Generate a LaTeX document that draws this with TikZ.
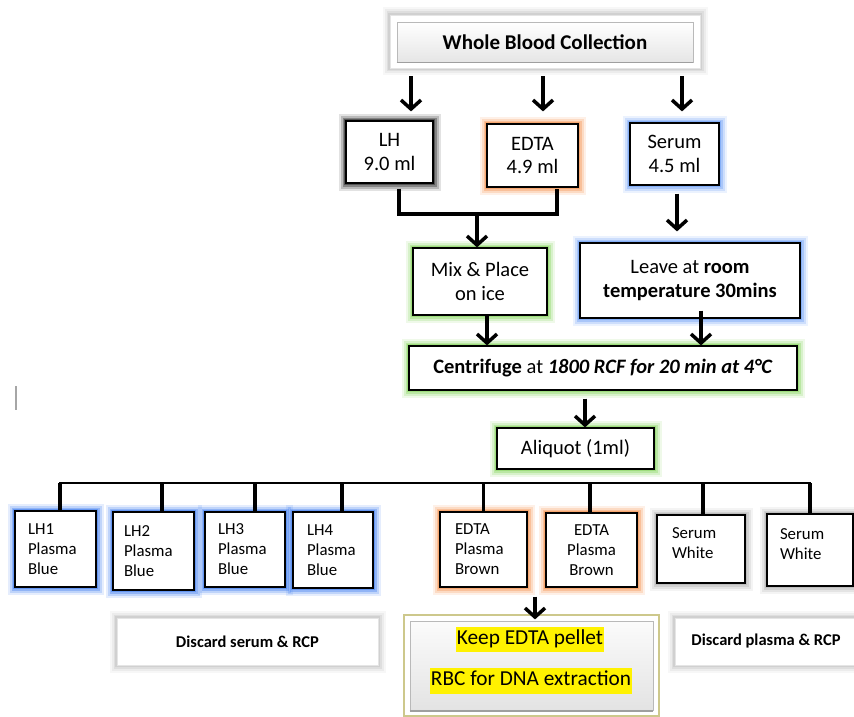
\documentclass[tikz,border=0pt]{standalone}
\usepackage{fontspec}
\setmainfont{Carlito}
\usetikzlibrary{arrows.meta,calc}
\definecolor{glowblue}{RGB}{110,160,245}
\definecolor{lhblue}{RGB}{70,130,240}
\definecolor{gloworange}{RGB}{245,150,85}
\definecolor{glowgreen}{RGB}{140,215,100}
\definecolor{keepedge}{RGB}{205,200,140}
\newcommand\mainsz{\fontsize{20.5}{23.5}\selectfont}
\newcommand\lowsz{\fontsize{16.8}{20}\selectfont}
\newcommand\keepsz{\fontsize{21.3}{25}\selectfont}

\begin{document}
\begin{tikzpicture}[x=1pt,y=-1pt,
  box/.style={draw=black,line width=1.2pt,fill=white,inner sep=0pt,align=center,font=\mainsz},
  glow/.style={preaction={draw=#1,line width=15pt,opacity=.14},
               preaction={draw=#1,line width=11pt,opacity=.24},
               preaction={draw=#1,line width=7pt,opacity=.38},
               preaction={draw=#1,line width=4pt,opacity=.6}},
  arr/.style={line width=3.5pt,-{Straight Barb[length=9pt,width=20pt]}},
  link/.style={line width=3.5pt},
  lowbox/.style={box,font=\lowsz,align=left,text width=#1},
  softbox/.style={draw=gray!20,line width=.8pt,fill=white,inner sep=0pt,glow=black!22},
  bevel/.style={draw=gray!55,line width=.8pt,top color=white,bottom color=gray!20,inner sep=0pt},
  hilite/.style={fill=yellow,inner xsep=1pt,inner ysep=3pt,text height=14.5pt,text depth=5pt,font=\keepsz},
]
\useasboundingbox (0,0) rectangle (854,717);
\clip (0,0) rectangle (854,717);

% collection box with bevelled face
\node[softbox,minimum width=310pt,minimum height=53pt] (wb) at (545,41.5) {};
\node[bevel,minimum width=296pt,minimum height=40pt,font=\fontsize{21}{25}\selectfont\bfseries] (wbt) at (545,42) {Whole Blood Collection};
\draw[gray!75,line width=1.6pt] (wbt.south west) -- (wbt.south east);

% tubes
\node[box,glow=black!80,minimum width=87pt,minimum height=62pt] (lh) at (389.5,152) {LH\\9.0 ml};
\node[box,glow=gloworange,minimum width=91pt,minimum height=63pt] (edta) at (532.5,155.5) {EDTA\\4.9 ml};
\node[box,glow=glowblue,minimum width=89pt,minimum height=62pt] (serum) at (674.5,154) {Serum\\4.5 ml};

\draw[arr] ($(wb.south)+(-134,8)$) -- ($(lh.north)+(21.5,-9)$);
\draw[arr] ($(wb.south)+(-2,8)$) -- ($(edta.north)+(10.5,-12)$);
\draw[arr] ($(wb.south)+(137,8)$) -- ($(serum.north)+(7.5,-11)$);

% processing steps
\node[box,glow=glowgreen,minimum width=134pt,minimum height=67pt] (mix) at (480,281.5) {Mix \& Place\\on ice};
\node[box,glow=glowblue,minimum width=220pt,minimum height=75pt] (leave) at (690,280.5) {Leave at \textbf{room}\\\textbf{temperature 30mins}};
\node[box,glow=glowgreen,minimum width=388pt,minimum height=44pt] (cent) at (603,368) {\textbf{Centrifuge} at \textbf{\textit{1800 RCF for 20 min at 4°C}}};
\node[box,glow=glowgreen,minimum width=157pt,minimum height=41pt] (aliq) at (575.5,448.5) {Aliquot (1ml)};

% LH and EDTA tubes are combined
\coordinate (lhd) at ($(lh.south)+(9.5,5)$);
\coordinate (edd) at ($(edta.south)+(24.5,1)$);
\coordinate (join) at (477,214);
\draw[link] (lhd) |- (join) -| (edd);
\draw[arr] (join) -- ($(mix.north)+(-3,0)$);
\draw[arr] ($(serum.south)+(2.5,8)$) -- ($(leave.north)+(-13,-11)$);
\draw[arr] ($(mix.south)+(7,0)$) -- ($(cent.north)+(-116,0)$);
\draw[arr] ($(leave.south)+(11,-8)$) -- ($(cent.north)+(98,0)$);
\draw[arr] ($(cent.south)+(-18,8)$) -- ($(aliq.north)+(9.5,0)$);

% aliquot tubes
\node[lowbox=55pt,glow=lhblue,minimum width=81pt,minimum height=76pt] (lh1) at (55.5,549) {LH1\\Plasma\\Blue};
\node[lowbox=59pt,glow=lhblue,minimum width=81pt,minimum height=78pt] (lh2) at (153.5,551) {LH2\\Plasma\\Blue};
\node[lowbox=54pt,glow=lhblue,minimum width=80pt,minimum height=75pt] (lh3) at (245,549.5) {LH3\\Plasma\\Blue};
\node[lowbox=52pt,glow=lhblue,minimum width=80pt,minimum height=76pt] (lh4) at (333,550) {LH4\\Plasma\\Blue};
\node[lowbox=57pt,glow=gloworange,minimum width=87pt,minimum height=75pt] (ed1) at (483.5,549.5) {EDTA\\Plasma\\Brown};
\node[box,font=\lowsz,glow=gloworange,minimum width=91pt,minimum height=74pt] (ed2) at (591.5,550) {EDTA\\Plasma\\Brown};
\node[lowbox=58pt,glow=black!30,minimum width=88pt,minimum height=68pt] (se1) at (701,549) {Serum\\White\\[-8pt]\mbox{}};
\node[lowbox=60pt,glow=black!30,minimum width=86pt,minimum height=72pt] (se2) at (810,550) {Serum\\White\\[-8pt]\mbox{}};

% distribution bus
\coordinate (busL) at (60,483);
\foreach \n/\dx in {lh1/4.5,lh2/8.5,lh3/10,lh4/9,ed1/0,ed2/-1.5,se1/2,se2/0}{
  \coordinate (d\n) at ($(\n.north)+(\dx,0)$);
  \draw[link] (d\n) -- (d\n |- busL);
}
\draw[line width=2.5pt,line cap=rect] (dlh1 |- busL) -- (dse2 |- busL);

% final handling
\node[softbox,minimum width=261pt,minimum height=47pt,font=\fontsize{16.5}{20}\selectfont\bfseries] (dis1) at (247.5,641.5) {Discard serum \& RCP};
\node[softbox,minimum width=182pt,minimum height=47pt,font=\fontsize{16.5}{20}\selectfont\bfseries] (dis2) at (766,641.5) {Discard plasma \& RCP};

\node[draw=keepedge,line width=1.2pt,fill=white,minimum width=255pt,minimum height=101pt,inner sep=0pt] (keep) at (531.5,665.5) {};
\node[bevel,top color=gray!3,bottom color=gray!22,minimum width=243pt,minimum height=89pt] (keepin) at (531.5,666) {};
\draw[gray!75,line width=1.6pt] (keepin.south west) -- (keepin.south east);
\node[hilite] (keep1) at (530,639.5) {Keep EDTA pellet};
\node[hilite] (keep2) at (531,681) {RBC for DNA extraction};
\draw[arr] ($(ed1.south)+(51.5,9)$) -- ($(keep.north)+(3.5,5)$);

% stray text cursor
\draw[gray!70,line width=1.3pt] (16,386) -- (16,410);
\end{tikzpicture}
\end{document}
